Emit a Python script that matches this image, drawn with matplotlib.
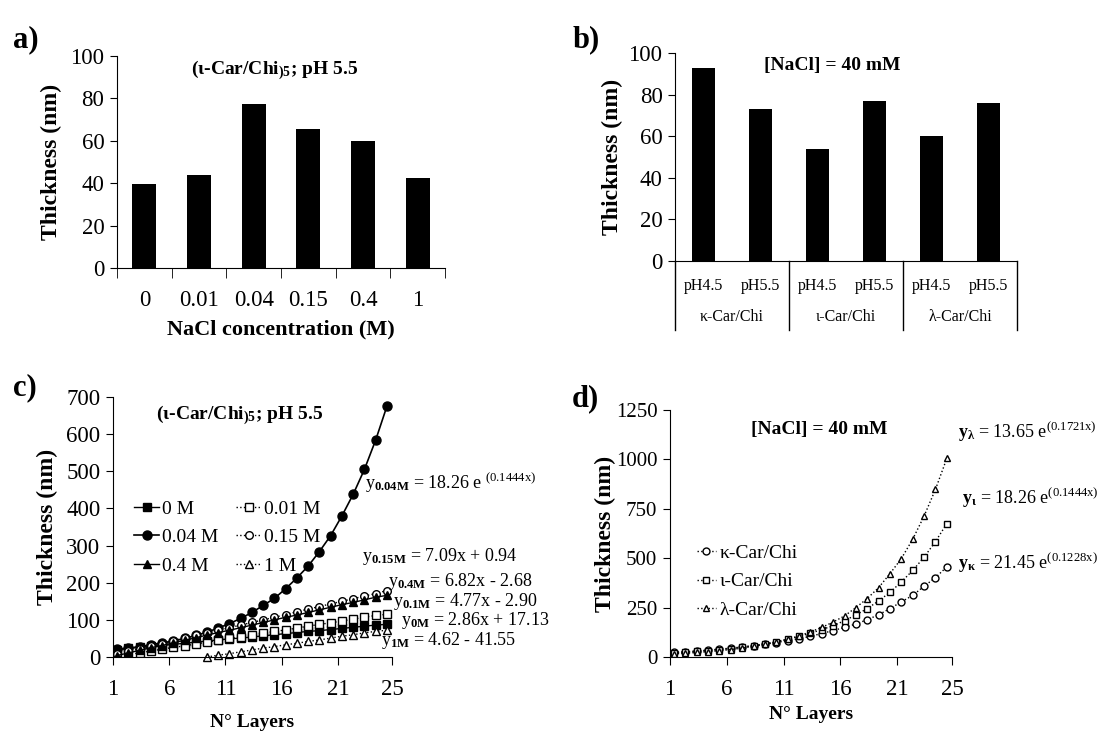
import numpy as np
import matplotlib
matplotlib.use("Agg")
import matplotlib.pyplot as plt
import matplotlib.transforms as mtransforms

plt.rcParams['font.family'] = ['Liberation Serif', 'DejaVu Serif']
plt.rcParams['mathtext.fontset'] = 'custom'
plt.rcParams['mathtext.rm'] = 'Liberation Serif'
plt.rcParams['mathtext.it'] = 'Liberation Serif:italic'
plt.rcParams['mathtext.bf'] = 'Liberation Serif:bold'

# a) thickness vs NaCl concentration
nacl_labels = ['0', '0.01', '0.04', '0.15', '0.4', '1']
nacl_thick = [39.5, 44, 77.5, 65.5, 60, 42.5]

# b) thickness at 40 mM NaCl
ph_labels = ['pH4.5', 'pH5.5', 'pH4.5', 'pH5.5', 'pH4.5', 'pH5.5']
car_groups = ['κ-Car/Chi', 'ι-Car/Chi', 'λ-Car/Chi']
ph_thick = [93, 73, 54, 77, 60, 76]

# c) growth curves, iota-Car/Chi at several NaCl concentrations
layers = list(range(1, 26))
t_0M = [20, 23, 26, 29, 31, 34, 37, 40, 43, 46, 49, 51, 54, 57, 60, 63, 66, 69, 71, 74, 77, 80, 83, 86, 88]
t_001M = [2, 7, 11, 16, 21, 26, 30, 35, 40, 45, 50, 54, 59, 64, 69, 73, 78, 83, 88, 92, 97, 102, 107, 112, 115]
t_004M = [21, 24, 28, 33, 38, 43, 50, 58, 67, 78, 90, 104, 120, 139, 158, 184, 213, 245, 284, 327, 380, 438, 505, 584, 675]
t_015M = [8, 15, 22, 29, 36, 44, 51, 58, 65, 72, 79, 86, 93, 100, 107, 114, 122, 129, 136, 143, 150, 157, 164, 171, 179]
t_04M = [4, 11, 18, 25, 31, 38, 45, 52, 59, 66, 72, 79, 86, 93, 100, 107, 113, 120, 127, 134, 141, 147, 154, 161, 166]
t_1M = [np.nan] * 8 + [0, 5, 9, 14, 19, 24, 28, 33, 37, 42, 46, 51, 56, 60, 65, 69, 72]

# d) growth curves for the three carrageenans
t_kappa = [24, 27, 31, 35, 40, 45, 51, 57, 65, 73, 83, 93, 105, 119, 134, 150, 167, 189, 214, 245, 279, 312, 358, 402, 456]
t_iota = [21, 24, 28, 33, 38, 43, 50, 58, 67, 78, 90, 104, 120, 139, 158, 184, 213, 245, 284, 327, 380, 438, 505, 584, 675]
t_lambda = [16, 19, 23, 27, 32, 38, 45, 54, 64, 76, 90, 107, 127, 150, 177, 208, 250, 296, 351, 422, 498, 596, 713, 848, 1005]

TICK = 16.5
LAB = 17

fig = plt.figure(figsize=(11.11, 7.31), dpi=100)


def style(ax, tick=TICK):
    ax.spines['top'].set_visible(False)
    ax.spines['right'].set_visible(False)
    ax.tick_params(axis='y', direction='out', length=5, labelsize=tick, pad=4)
    ax.tick_params(axis='x', labelsize=tick)


# ---- a)
ax = fig.add_axes([0.1053, 0.6334, 0.2952, 0.290])
style(ax)
xa = np.arange(len(nacl_labels))
ax.bar(xa, nacl_thick, width=0.44, color='black')
ax.set_xlim(-0.5, len(nacl_labels) - 0.5)
ax.set_ylim(0, 100)
ax.set_yticks(range(0, 101, 20))
ax.set_xticks(xa)
ax.set_xticklabels(nacl_labels)
ax.set_xticks(np.arange(-0.5, len(nacl_labels)), minor=True)
ax.tick_params(axis='x', which='major', length=0, pad=16)
ax.tick_params(axis='x', which='minor', direction='out', length=7)
ax.set_xlabel('NaCl concentration (M)', fontsize=16, fontweight='bold', labelpad=6)
ax.set_ylabel('Thickness (nm)', fontsize=LAB, fontweight='bold', labelpad=6)
ax.text(0.48, 0.934, r'(ι-Car/Chi$_{\mathbf{)5}}$; pH 5.5', transform=ax.transAxes,
        ha='center', va='center', fontsize=14, fontweight='bold')
fig.text(0.012, 0.945, 'a)', fontsize=22, fontweight='bold', va='center')

# ---- b)
ax = fig.add_axes([0.6076, 0.643, 0.3078, 0.2845])
style(ax)
xb = np.arange(len(ph_labels))
ax.bar(xb, ph_thick, width=0.39, color='black')
ax.set_xlim(-0.5, len(ph_labels) - 0.5)
ax.set_ylim(0, 100)
ax.set_yticks(range(0, 101, 20))
ax.set_xticks(xb)
ax.set_xticklabels(ph_labels, fontsize=11.5)
ax.tick_params(axis='x', length=0, pad=12)
trans = mtransforms.blended_transform_factory(ax.transData, ax.transAxes)
for i, g in enumerate(car_groups):
    ax.text(2 * i + 0.5, -0.27, g, transform=trans, ha='center', va='center', fontsize=11.5)
for xs in np.arange(-0.5, len(ph_labels), 2):
    ax.plot([xs, xs], [0, -0.33], transform=trans, color='black', lw=1, clip_on=False)
ax.set_ylabel('Thickness (nm)', fontsize=LAB, fontweight='bold', labelpad=4)
ax.text(0.46, 0.94, '[NaCl] = 40 mM', transform=ax.transAxes,
        ha='center', va='center', fontsize=14, fontweight='bold')
fig.text(0.515, 0.945, 'b)', fontsize=22, fontweight='bold', va='center')

# ---- c)
tick_pos = [0.64, 5.64, 10.64, 15.64, 20.64, 25.45]
tick_lab = ['1', '6', '11', '16', '21', '25']

ax = fig.add_axes([0.1017, 0.1012, 0.2511, 0.3557])
style(ax)
h0, = ax.plot(layers, t_0M, '-s', color='black', ms=5.5, lw=1, label='0 M')
h1, = ax.plot(layers, t_001M, ':s', color='black', mfc='white', ms=5.5, lw=1, label='0.01 M')
h2, = ax.plot(layers, t_004M, '-o', color='black', ms=6.5, lw=1.2, label='0.04 M')
h3, = ax.plot(layers, t_015M, ':o', color='black', mfc='white', ms=5.5, lw=1, label='0.15 M')
h4, = ax.plot(layers, t_04M, '-^', color='black', ms=5.5, lw=1, label='0.4 M')
h5, = ax.plot(layers, t_1M, ':^', color='black', mfc='white', ms=5.5, lw=1, label='1 M', clip_on=False)
ax.set_xlim(tick_pos[0], tick_pos[-1])
ax.set_ylim(0, 700)
ax.set_yticks(range(0, 701, 100))
ax.set_xticks(tick_pos)
ax.set_xticklabels(tick_lab)
ax.tick_params(axis='x', direction='out', length=6, pad=10)
ax.set_xlabel('N° Layers', fontsize=14, fontweight='bold', labelpad=10)
ax.set_ylabel('Thickness (nm)', fontsize=LAB, fontweight='bold', labelpad=6)
ax.legend(handles=[h0, h2, h4, h1, h3, h5], ncol=2, loc='upper left',
          bbox_to_anchor=(0.04, 0.64), frameon=False, fontsize=14,
          handlelength=1.3, handletextpad=0.15, columnspacing=0.9, labelspacing=0.55,
          borderpad=0)
ax.text(0.455, 0.93, r'(ι-Car/Chi$_{\mathbf{)5}}$; pH 5.5', transform=ax.transAxes,
        ha='center', va='center', fontsize=14, fontweight='bold')
eqs_c = [
    (0.903, 0.67, r'y$_{\mathbf{0.04M}}$ = 18.26 e $^{\mathrm{(0.1444x)}}$'),
    (0.892, 0.385, r'y$_{\mathbf{0.15M}}$ = 7.09x + 0.94'),
    (0.986, 0.289, r'y$_{\mathbf{0.4M}}$ = 6.82x - 2.68'),
    (1.004, 0.215, r'y$_{\mathbf{0.1M}}$ = 4.77x - 2.90'),
    (1.032, 0.142, r'y$_{\mathbf{0M}}$ = 2.86x + 17.13'),
    (0.96, 0.062, r'y$_{\mathbf{1M}}$ = 4.62 - 41.55'),
]
for ex, ey, s in eqs_c:
    ax.text(ex, ey, s, transform=ax.transAxes, ha='left', va='center', fontsize=13)
fig.text(0.012, 0.47, 'c)', fontsize=22, fontweight='bold', va='center')

# ---- d)
ax = fig.add_axes([0.603, 0.1012, 0.2538, 0.3379])
style(ax, tick=15)
k1, = ax.plot(layers, t_kappa, ':o', color='black', mfc='white', ms=5, lw=1, label='κ-Car/Chi')
k2, = ax.plot(layers, t_iota, ':s', color='black', mfc='white', ms=5, lw=1, label='ι-Car/Chi')
k3, = ax.plot(layers, t_lambda, ':^', color='black', mfc='white', ms=5, lw=1, label='λ-Car/Chi')
ax.set_xlim(tick_pos[0], tick_pos[-1])
ax.set_ylim(0, 1250)
ax.set_yticks(range(0, 1251, 250))
ax.set_xticks(tick_pos)
ax.set_xticklabels(tick_lab, fontsize=16.5)
ax.tick_params(axis='x', direction='out', length=6, pad=10)
ax.set_xlabel('N° Layers', fontsize=14, fontweight='bold', labelpad=4)
ax.set_ylabel('Thickness (nm)', fontsize=LAB, fontweight='bold', labelpad=0)
ax.legend(handles=[k1, k2, k3], loc='upper left', bbox_to_anchor=(0.06, 0.495),
          frameon=False, fontsize=14, handlelength=1.0, handletextpad=0.2,
          labelspacing=0.55, borderpad=0)
ax.text(0.53, 0.92, '[NaCl] = 40 mM', transform=ax.transAxes,
        ha='center', va='center', fontsize=14, fontweight='bold')
eqs_d = [
    (1.021, 0.911, r'$\mathbf{y}_{\mathbf{λ}}$ = 13.65 e$^{\mathrm{(0.1721x)}}$'),
    (1.035, 0.644, r'$\mathbf{y}_{\mathbf{ι}}$ = 18.26 e$^{\mathrm{(0.1444x)}}$'),
    (1.021, 0.38, r'$\mathbf{y}_{\mathbf{κ}}$ = 21.45 e$^{\mathrm{(0.1228x)}}$'),
]
for ex, ey, s in eqs_d:
    ax.text(ex, ey, s, transform=ax.transAxes, ha='left', va='center', fontsize=13)
fig.text(0.515, 0.455, 'd)', fontsize=22, fontweight='bold', va='center')

fig.savefig('out.png', dpi=100)
